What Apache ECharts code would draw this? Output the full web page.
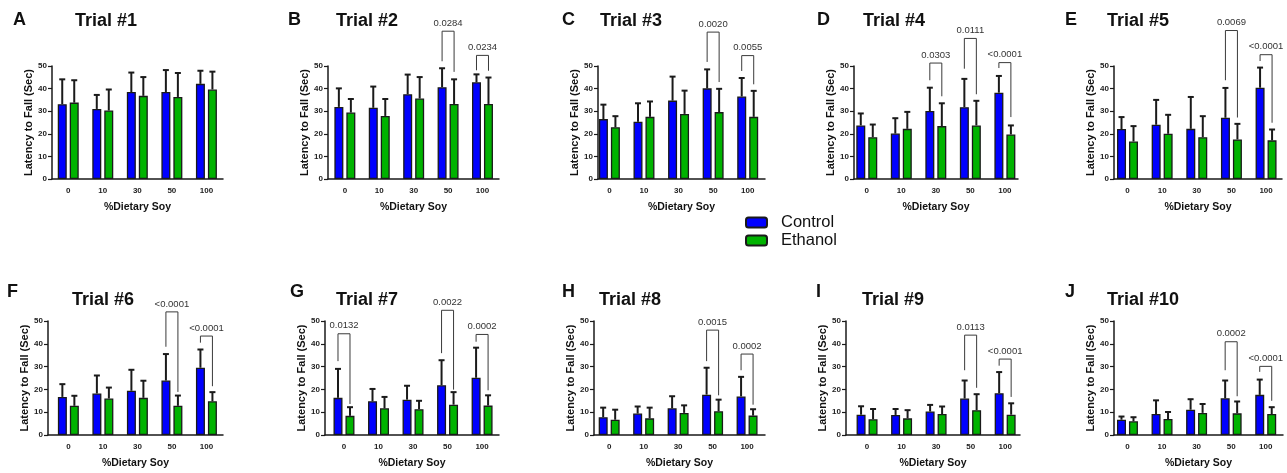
<!DOCTYPE html>
<html>
<head>
<meta charset="utf-8">
<title>Latency to Fall - Trials 1-10</title>
<script src="https://cdn.jsdelivr.net/npm/echarts@6/dist/echarts.min.js"></script>
<style>
  html, body { margin: 0; padding: 0; background: #fff; }
  #chart { width: 1287px; height: 473px; }
</style>
</head>
<body>
<div id="chart"></div>
<script>
// values (mean and SD of latency to fall, sec)
const doses = ['0', '10', '30', '50', '100']
const panelLetters = ['A', 'B', 'C', 'D', 'E', 'F', 'G', 'H', 'I', 'J']
const trialNames = ['Trial #1', 'Trial #2', 'Trial #3', 'Trial #4', 'Trial #5',
  'Trial #6', 'Trial #7', 'Trial #8', 'Trial #9', 'Trial #10']

const controlMean = [
  [33.1, 31.0, 38.5, 38.5, 42.1],
  [31.9, 31.5, 37.5, 40.6, 42.8],
  [26.5, 25.3, 34.7, 40.1, 36.5],
  [23.7, 20.1, 30.1, 31.8, 38.2],
  [22.1, 24.0, 22.2, 27.1, 40.4],
  [16.7, 18.2, 19.4, 23.9, 29.5],
  [16.3, 14.8, 15.5, 21.8, 25.1],
  [7.8, 9.4, 11.7, 17.7, 16.9],
  [8.9, 8.8, 10.3, 16.0, 18.3],
  [6.7, 9.2, 11.1, 16.1, 17.6]
]
const controlSD = [
  [11.0, 6.2, 8.6, 9.7, 5.8],
  [8.2, 9.4, 8.7, 8.4, 3.5],
  [6.4, 8.2, 10.6, 8.4, 8.2],
  [5.3, 6.8, 10.3, 12.5, 7.4],
  [5.3, 11.0, 14.1, 13.2, 8.9],
  [5.6, 7.9, 9.2, 11.6, 8.0],
  [12.7, 5.4, 6.1, 11.0, 13.2],
  [4.2, 3.1, 5.3, 11.8, 8.6],
  [3.7, 2.6, 2.9, 7.9, 9.3],
  [1.4, 6.0, 4.6, 7.8, 6.7]
]
const ethanolMean = [
  [33.8, 30.3, 36.8, 36.3, 39.6],
  [29.4, 27.9, 35.6, 33.2, 33.2],
  [22.9, 27.5, 28.8, 29.6, 27.5],
  [18.5, 22.2, 23.4, 23.7, 19.7],
  [16.6, 20.0, 18.5, 17.5, 17.1],
  [12.8, 16.0, 16.3, 12.8, 14.8],
  [8.4, 11.7, 11.3, 13.3, 12.9],
  [6.7, 7.3, 9.7, 10.4, 8.5],
  [6.9, 7.3, 9.2, 10.9, 8.9],
  [6.0, 7.0, 9.7, 9.5, 9.2]
]
const ethanolSD = [
  [9.9, 9.3, 8.3, 10.6, 7.9],
  [6.0, 7.5, 9.5, 10.9, 11.7],
  [4.9, 6.8, 10.3, 10.3, 11.5],
  [5.6, 7.5, 10.1, 10.9, 4.0],
  [6.8, 8.4, 9.3, 6.9, 4.8],
  [4.4, 4.8, 7.5, 4.5, 4.0],
  [3.8, 5.0, 3.7, 5.5, 4.5],
  [4.4, 4.7, 3.3, 5.1, 2.8],
  [4.5, 3.6, 3.3, 7.0, 5.0],
  [1.8, 3.1, 3.9, 5.2, 3.0]
]
// significance brackets: [dose index, left foot, top, right foot, p value]
const brackets = [
  [],
  [[3, 52.1, 65.4, 47.4, '0.0284'], [4, 48.1, 54.7, 47.9, '0.0234']],
  [[3, 51.8, 65.0, 42.9, '0.0020'], [4, 47.8, 54.6, 41.9, '0.0055']],
  [[2, 43.7, 51.3, 36.6, '0.0303'], [3, 48.8, 62.2, 37.5, '0.0111'], [4, 49.1, 51.5, 27.4, '<0.0001']],
  [[3, 43.7, 65.7, 27.2, '0.0069'], [4, 52.2, 55.0, 24.9, '<0.0001']],
  [[3, 38.7, 54.0, 18.9, '<0.0001'], [4, 40.5, 43.4, 21.4, '<0.0001']],
  [[0, 32.4, 44.4, 13.6, '0.0132'], [3, 35.9, 54.7, 19.9, '0.0022'], [4, 40.9, 44.1, 19.6, '0.0002']],
  [[3, 32.4, 46.0, 17.4, '0.0015'], [4, 28.4, 35.5, 13.3, '0.0002']],
  [[3, 28.4, 43.8, 20.7, '0.0113'], [4, 30.4, 33.3, 16.7, '<0.0001']],
  [[3, 28.4, 40.9, 17.0, '0.0002'], [4, 27.7, 30.1, 15.0, '<0.0001']]
]

// panel layout: [y axis x, x axis end, x min, x max, letter x, title x, row]
const layout = [
  [52, 223, -0.47, 4.48, 13, 75, 0],
  [328, 499, -0.49, 4.48, 288, 336, 0],
  [598, 765, -0.33, 4.50, 562, 600, 0],
  [854, 1018, -0.37, 4.38, 817, 863, 0],
  [1114, 1282, -0.39, 4.46, 1065, 1107, 0],
  [48, 223, -0.59, 4.48, 7, 72, 1],
  [325, 499, -0.55, 4.49, 290, 336, 1],
  [594, 765, -0.44, 4.52, 562, 599, 1],
  [846, 1020, -0.61, 4.43, 816, 862, 1],
  [1114, 1283, -0.39, 4.50, 1065, 1107, 1]
]
const rowTop = [66, 321]
const rowHeight = [113, 114]
const letterTop = [11, 283]
const titleTop = [12, 291]

const FONT = 'Liberation Sans, Arial, sans-serif'
const INK = '#1a1a1a'
const BAR_W = 9
const HALF = 6 // distance from dose position to each bar centre

const chart = echarts.init(document.getElementById('chart'))

const grids = [], xAxes = [], yAxes = [], series = [], titles = []

layout.forEach((p, i) => {
  const [yx, xEnd, xMin, xMax, letterX, titleX, row] = p
  grids.push({ left: yx, top: rowTop[row], width: xEnd - yx, height: rowHeight[row] })

  titles.push({
    text: panelLetters[i], left: letterX, top: letterTop[row], padding: 0,
    textStyle: { fontFamily: FONT, fontSize: 18, fontWeight: 'bold', color: '#111' }
  })
  titles.push({
    text: trialNames[i], left: titleX, top: titleTop[row], padding: 0,
    textStyle: { fontFamily: FONT, fontSize: 18, fontWeight: 'bold', color: '#111' }
  })

  xAxes.push({
    gridIndex: i, type: 'value', min: xMin, max: xMax,
    axisLine: { show: true, onZero: false, lineStyle: { color: INK, width: 1.5 } },
    axisTick: { show: false },
    splitLine: { show: false },
    axisLabel: {
      customValues: [0, 1, 2, 3, 4],
      formatter: v => doses[v] ?? '',
      fontFamily: FONT, fontSize: 8, fontWeight: 'bold', color: '#222', margin: 8
    },
    name: '%Dietary Soy', nameLocation: 'middle', nameGap: 23,
    nameTextStyle: { fontFamily: FONT, fontSize: 10.5, fontWeight: 'bold', color: '#111' }
  })

  yAxes.push({
    gridIndex: i, type: 'value', min: 0, max: 50, interval: 10,
    axisLine: { show: true, onZero: false, lineStyle: { color: INK, width: 1.5 } },
    axisTick: { show: true, length: 4, lineStyle: { color: INK, width: 1.2 } },
    splitLine: { show: false },
    axisLabel: { fontFamily: FONT, fontSize: 8, fontWeight: 'bold', color: '#222', margin: 5 },
    name: 'Latency to Fall (Sec)', nameLocation: 'middle', nameGap: 18,
    nameTextStyle: { fontFamily: FONT, fontSize: 11, fontWeight: 'bold', color: '#111' }
  })

  series.push({
    name: 'Control', type: 'bar', xAxisIndex: i, yAxisIndex: i,
    barWidth: BAR_W, barGap: '33%',
    itemStyle: { color: '#0000ff', borderColor: '#1a1a1a', borderWidth: 1.3 },
    data: controlMean[i].map((v, k) => [k, v]),
    silent: true
  })
  series.push({
    name: 'Ethanol', type: 'bar', xAxisIndex: i, yAxisIndex: i,
    barWidth: BAR_W, barGap: '33%',
    itemStyle: { color: '#00b300', borderColor: '#1a1a1a', borderWidth: 1.3 },
    data: ethanolMean[i].map((v, k) => [k, v]),
    silent: true
  })

  // upper error bars (mean + SD)
  const errData = []
  controlMean[i].forEach((v, k) => errData.push([k, 0, v, controlSD[i][k]]))
  ethanolMean[i].forEach((v, k) => errData.push([k, 1, v, ethanolSD[i][k]]))
  series.push({
    type: 'custom', xAxisIndex: i, yAxisIndex: i, z: 5, silent: true, clip: false,
    encode: { x: 0, y: 2 },
    data: errData,
    renderItem: (params, api) => {
      const x = api.value(0), g = api.value(1), m = api.value(2), sd = api.value(3)
      const base = api.coord([x, m]), top = api.coord([x, m + sd])
      const cx = base[0] + (g === 0 ? -HALF : HALF)
      return {
        type: 'group', children: [
          { type: 'line', shape: { x1: cx, y1: base[1], x2: cx, y2: top[1] }, style: { stroke: INK, lineWidth: 2 } },
          { type: 'line', shape: { x1: cx - 3, y1: top[1], x2: cx + 3, y2: top[1] }, style: { stroke: INK, lineWidth: 2 } }
        ]
      }
    }
  })

  // significance brackets
  const br = brackets[i]
  if (br.length) {
    series.push({
      type: 'custom', xAxisIndex: i, yAxisIndex: i, z: 6, silent: true, clip: false,
      encode: { x: 0, y: 2 },
      data: br.map(b => [b[0], b[1], b[2], b[3]]),
      renderItem: (params, api) => {
        const x = api.value(0)
        const l = api.coord([x, api.value(1)])
        const t = api.coord([x, api.value(2)])
        const r = api.coord([x, api.value(3)])
        const xl = l[0] - HALF, xr = l[0] + HALF
        return {
          type: 'group', children: [
            {
              type: 'polyline',
              shape: { points: [[xl, l[1]], [xl, t[1]], [xr, t[1]], [xr, r[1]]] },
              style: { stroke: '#3a3a3a', lineWidth: 1, fill: null }
            },
            {
              type: 'text', x: l[0], y: t[1] - 3,
              style: {
                text: br[params.dataIndex][4], fill: '#333', fontFamily: FONT, fontSize: 9.5,
                align: 'center', verticalAlign: 'bottom'
              }
            }
          ]
        }
      }
    })
  }
})

chart.setOption({
  backgroundColor: '#fff',
  animation: false,
  title: titles,
  legend: {
    data: ['Control', 'Ethanol'], left: 745, top: 214, orient: 'vertical',
    itemWidth: 21, itemHeight: 10, itemGap: 1, padding: 0, selectedMode: false,
    textStyle: { fontFamily: FONT, fontSize: 16.5, color: '#111', padding: [0, 0, 0, 9] }
  },
  grid: grids,
  xAxis: xAxes,
  yAxis: yAxes,
  series: series
})
</script>
</body>
</html>
